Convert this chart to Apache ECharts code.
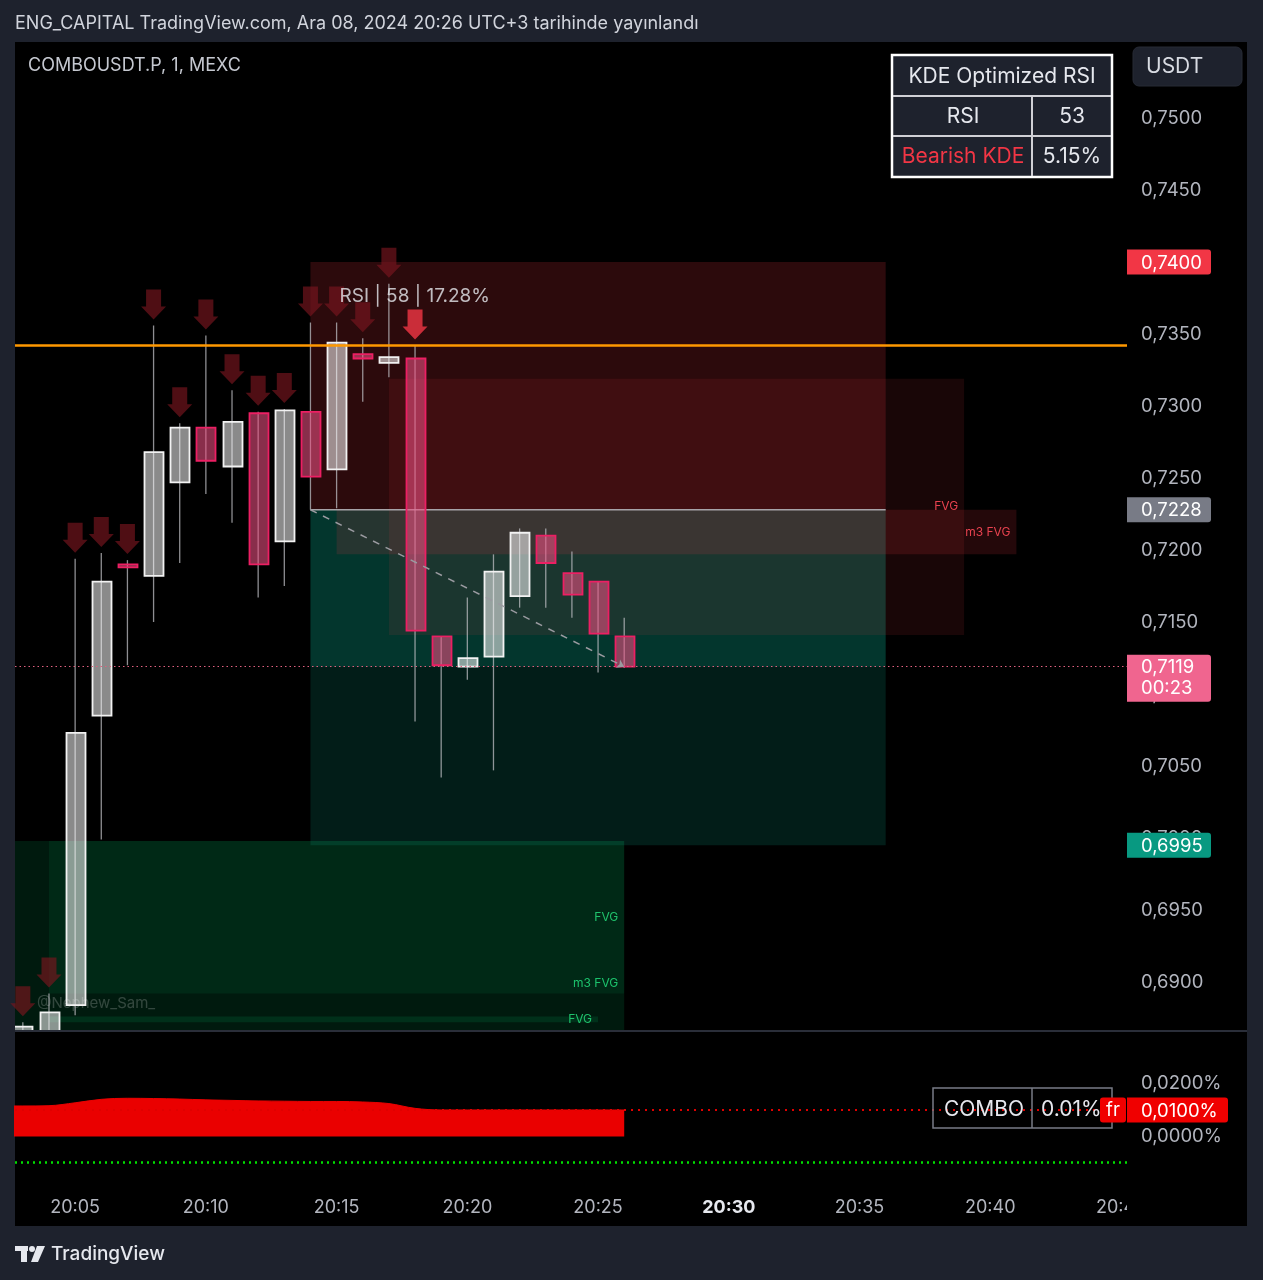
<!DOCTYPE html>
<html>
<head>
<meta charset="utf-8">
<script src="https://cdn.jsdelivr.net/npm/echarts@6/dist/echarts.min.js"></script>
<style>
html,body{margin:0;padding:0;background:#1e222d;}
#c{width:1263px;height:1280px;}
</style>
</head>
<body>
<div id="c"></div>
<script>
// ---------------- DATA ----------------
const candleTimes = ['20:03','20:04','20:05','20:06','20:07','20:08','20:09','20:10','20:11','20:12','20:13','20:14',
                     '20:15','20:16','20:17','20:18','20:19','20:20','20:21','20:22','20:23','20:24','20:25','20:26'];
const openP  = [0.6862,0.6866,0.6884,0.7085,0.7190,0.7182,0.7247,0.7285,0.7258,0.7295,0.7206,0.7296,
                0.7256,0.7336,0.7330,0.7333,0.7140,0.7119,0.7126,0.7168,0.7210,0.7184,0.7178,0.7140];
const closeP = [0.6869,0.6879,0.7073,0.7178,0.7188,0.7268,0.7285,0.7262,0.7289,0.7190,0.7297,0.7251,
                0.7344,0.7333,0.7334,0.7144,0.7120,0.7125,0.7185,0.7212,0.7191,0.7169,0.7142,0.7119];
const lowP   = [0.6860,0.6864,0.6877,0.6999,0.7120,0.7150,0.7191,0.7239,0.7219,0.7167,0.7175,0.7228,
                0.7229,0.7303,0.7320,0.7081,0.7042,0.7110,0.7047,0.7160,0.7160,0.7153,0.7115,0.7118];
const highP  = [0.6872,0.6892,0.7194,0.7198,0.7193,0.7356,0.7288,0.7349,0.7311,0.7296,0.7298,0.7358,
                0.7358,0.7347,0.7385,0.7342,0.7140,0.7167,0.7197,0.7215,0.7215,0.7199,0.7178,0.7153];

const signalTimes = ['20:03','20:04','20:05','20:06','20:07','20:08','20:09','20:10','20:11','20:12',
                     '20:13','20:14','20:15','20:16','20:17','20:18'];
const strongSignal = '20:18';

const fundTimes = ['20:02','20:03','20:04','20:05','20:06','20:07','20:08','20:09','20:10','20:11','20:12','20:13',
                   '20:14','20:15','20:16','20:17','20:18','20:19','20:20','20:21','20:22','20:23','20:24','20:25','20:26'];
const fundingRate = [0.0115,0.0115,0.0116,0.0127,0.0140,0.0144,0.0143,0.0141,0.0138,0.0136,0.0134,0.0133,
                     0.0132,0.0132,0.0130,0.0124,0.0106,0.0100,0.0100,0.0100,0.0100,0.0100,0.0100,0.0100,0.0100];
const fundingLast = 0.0100;
const greenLevel = -0.0097;

const timeTicks = ['20:05','20:10','20:15','20:20','20:25','20:30','20:35','20:40','20:45'];
const boldTick = '20:30';
const priceTicks = [0.6900,0.6950,0.7000,0.7050,0.7100,0.7150,0.7200,0.7250,0.7300,0.7350,0.7400,0.7450,0.7500];
const fundTicks = [0.0000,0.0100,0.0200];

// zones: [start, end, top, bottom, label]
const stopZone   = ['20:14','20:36',0.7400,0.7228,''];
const targetZone = ['20:14','20:36',0.7228,0.6995,''];
const filledZone = ['20:14','20:36',0.7228,0.7119,''];
const bearFVG    = ['20:17','20:39',0.7319,0.7141,'FVG'];
const bearM3FVG  = ['20:15','20:41',0.7228,0.7197,'m3 FVG'];
const bullM3FVG  = ['20:00','20:26',0.6998,0.6800,'m3 FVG'];
const bullFVG    = ['20:04','20:26',0.6998,0.6892,'FVG'];
const bullFVG2   = ['20:04','20:25',0.6876,0.6872,'FVG'];

const entryPrice = 0.7228, targetPrice = 0.6995, stopPrice = 0.7400, lastPrice = 0.7119;
const entryTime = '20:14', zoneEnd = '20:36', lastTime = '20:26';
const orangeLevel = 0.73424;
const countdown = '00:23';
const rsiNote = {time:'20:15', price:0.7376, text:'RSI | 58 | 17.28%'};

const headerText = 'ENG_CAPITAL TradingView.com, Ara 08, 2024 20:26 UTC+3 tarihinde yayınlandı';
const symbolText = 'COMBOUSDT.P, 1, MEXC';
const kdeTitle = 'KDE Optimized RSI', rsiValue = 53, kdeLabel = 'Bearish KDE', kdePct = 5.15;
const comboName = 'COMBO', comboPct = '0.01%';

// ---------------- HELPERS ----------------
const FONT = 'Inter, Roboto, "Noto Sans", sans-serif';
const toMin = s => { const p = s.split(':').map(Number); return (p[0]-20)*60 + p[1]; };
const fmtPrice = v => v.toFixed(4).replace('.', ',');
const fmtPct = v => v.toFixed(4).replace('.', ',') + '%';
const X_MIN = 2.7, X_MAX = 45.23;

const RED = 'rgba(242,54,69,', TEAL = 'rgba(8,153,129,', GRN = 'rgba(0,210,115,';
const zones = [
  {z: bullM3FVG, fill: GRN+'0.12)', lab:'#1fc26c'},
  {z: bullFVG,   fill: GRN+'0.085)', lab:'#1fc26c'},
  {z: bullFVG2,  fill: GRN+'0.12)', lab:'#1fc26c'},
  {z: targetZone, fill: TEAL+'0.19)'},
  {z: filledZone, fill: TEAL+'0.2)'},
  {z: stopZone,  fill: RED+'0.18)'},
  {z: bearFVG,   fill: RED+'0.1)', lab:'#e8424f'},
  {z: bearM3FVG, fill: RED+'0.15)', lab:'#e8424f'}
];

const chart = echarts.init(document.getElementById('c'));

const candleData = candleTimes.map((t,i) => [toMin(t), openP[i], closeP[i], lowP[i], highP[i]]);
const arrowData = signalTimes.map(t => {
  const i = candleTimes.indexOf(t);
  return {value:[toMin(t), highP[i]], itemStyle:{color: t === strongSignal ? '#f23645' : 'rgba(120,22,30,0.82)'}};
});

const option = {
  backgroundColor: '#1e222d',
  animation: false,
  grid: [
    {left:15, top:42, width:1112, height:988},
    {left:15, top:1032, width:1112, height:158}
  ],
  xAxis: [
    {type:'value', gridIndex:0, min:X_MIN, max:X_MAX, axisLine:{show:false}, axisTick:{show:false},
     axisLabel:{show:false}, splitLine:{show:false}},
    {type:'value', gridIndex:1, min:X_MIN, max:X_MAX, axisLine:{show:false}, axisTick:{show:false},
     splitLine:{show:false},
     axisLabel:{customValues: timeTicks.map(toMin), color:'#b2b5be', fontSize:18, fontFamily:FONT, margin:9,
       formatter: v => { const s = '20:' + String(Math.round(v)).padStart(2,'0'); return s === boldTick ? '{b|'+s+'}' : s; },
       rich:{b:{fontWeight:'bold', color:'#e6e8ee', fontSize:18, fontFamily:FONT}}}}
  ],
  yAxis: [
    {type:'value', gridIndex:0, position:'right', min:0.68667, max:0.75528, axisLine:{show:false},
     axisTick:{show:false}, splitLine:{show:false},
     axisLabel:{customValues: priceTicks, formatter: fmtPrice, color:'#b2b5be', fontSize:18.5, fontFamily:FONT, margin:14}},
    {type:'value', gridIndex:1, position:'right', min:-0.0202, max:0.0394, axisLine:{show:false},
     axisTick:{show:false}, splitLine:{show:false},
     axisLabel:{customValues: fundTicks, formatter: fmtPct, color:'#b2b5be', fontSize:18.5, fontFamily:FONT, margin:14}}
  ],
  series: [
    {
      type:'custom', name:'zones', xAxisIndex:0, yAxisIndex:0, clip:true, z:1, silent:true,
      encode:{x:[0,1], y:[2,3]},
      data: zones.map(o => [toMin(o.z[0]), toMin(o.z[1]), o.z[2], o.z[3]]),
      renderItem: (params, api) => {
        const o = zones[params.dataIndex];
        const p0 = api.coord([api.value(0), api.value(2)]);
        const p1 = api.coord([api.value(1), api.value(3)]);
        const children = [{type:'rect', shape:{x:p0[0], y:p0[1], width:p1[0]-p0[0], height:p1[1]-p0[1]},
                           style:{fill:o.fill}}];
        if (o.z[4]) children.push({type:'text', style:{text:o.z[4], x:p1[0]-6, y:(p0[1]+p1[1])/2,
          align:'right', verticalAlign:'middle', fill:o.lab, fontSize:12, fontFamily:FONT}});
        return {type:'group', children};
      }
    },
    {
      type:'line', name:'entry', xAxisIndex:0, yAxisIndex:0, z:2, silent:true, symbol:'none',
      data:[[toMin(entryTime), entryPrice],[toMin(zoneEnd), entryPrice]],
      lineStyle:{color:'#a7a3a8', width:1.5},
      markLine:{silent:true, precision:6, symbol:['none','none'], label:{show:false}, animation:false,
        data:[
          {yAxis: orangeLevel, lineStyle:{color:'#ff9800', width:2.5, type:'solid'}},
          {yAxis: lastPrice, lineStyle:{color:'#e0607f', width:1, type:[1.5,3]}},
          [{coord:[toMin(entryTime), entryPrice], symbol:'none'},
           {coord:[toMin(lastTime), lastPrice], symbol:'arrow', symbolSize:7,
            lineStyle:{color:'#9a9aa0', width:1.5, type:[7,7]}}]
        ]}
    },
    {
      type:'custom', name:'candles', xAxisIndex:0, yAxisIndex:0, clip:true, z:3, silent:true,
      encode:{x:0, y:[1,2,3,4]},
      data: candleData,
      renderItem: (params, api) => {
        const t = api.value(0), o = api.value(1), c = api.value(2), l = api.value(3), h = api.value(4);
        const pO = api.coord([t,o]), pC = api.coord([t,c]), pL = api.coord([t,l]), pH = api.coord([t,h]);
        const w = api.size([1,0])[0] * 0.72;
        const up = c >= o;
        const top = Math.min(pO[1], pC[1]);
        let hh = Math.abs(pO[1]-pC[1]);
        if (hh < 3) hh = 3;
        return {type:'group', children:[
          {type:'line', shape:{x1:pH[0], y1:pH[1], x2:pL[0], y2:pL[1]}, style:{stroke:'rgba(190,190,195,0.75)', lineWidth:1.3}},
          {type:'rect', shape:{x:Math.round(pO[0]-w/2)+0.5, y:top, width:Math.round(w), height:hh},
           style:{fill: up ? 'rgba(255,255,255,0.54)' : 'rgba(236,80,130,0.58)',
                  stroke: up ? '#f2f2f2' : '#ec1f63', lineWidth:1.8}}
        ]};
      }
    },
    {
      type:'scatter', name:'signals', xAxisIndex:0, yAxisIndex:0, z:4, silent:true,
      symbol:'path://M5,0 H20 V17 H25 L12.5,30 L0,17 H5 Z', symbolSize:[25,30], symbolOffset:[0,-21],
      data: arrowData
    },
    {
      type:'scatter', name:'rsiNote', xAxisIndex:0, yAxisIndex:0, z:5, silent:true, symbolSize:0,
      data:[[toMin(rsiNote.time), rsiNote.price]],
      label:{show:true, position:'right', distance:3, formatter: rsiNote.text, color:'#e6e8ee', fontSize:19, fontFamily:FONT}
    },
    {
      type:'line', name:'funding', xAxisIndex:1, yAxisIndex:1, z:2, silent:true, symbol:'none', smooth:0.35,
      data: fundTimes.map((t,i) => [toMin(t), fundingRate[i]]),
      lineStyle:{color:'#ea0000', width:1}, areaStyle:{color:'#ea0000', opacity:1},
      markLine:{silent:true, precision:6, symbol:['none','none'], label:{show:false}, animation:false,
        data:[
          {yAxis: fundingLast, lineStyle:{color:'#e00000', width:2, type:[2,5]}},
          {yAxis: greenLevel, lineStyle:{color:'#00e000', width:2.5, type:[2,4]}}
        ]}
    }
  ]
};
chart.setOption(option);

// ---------------- OVERLAY GRAPHICS ----------------
const py = v => chart.convertToPixel({yAxisIndex:0}, v);
const fy = v => chart.convertToPixel({yAxisIndex:1}, v);
const g = [];
const txt = (text, x, y, o, z) => ({type:'text', z: z || 110, silent:true,
  style:Object.assign({text, x, y, fill:'#e6e8ee', fontSize:18, fontFamily:FONT, verticalAlign:'middle', align:'left'}, o || {})});

g.push({type:'rect', z:-10, silent:true, shape:{x:15, y:42, width:1232, height:1184}, style:{fill:'#000'}});
g.push({type:'text', z:1, silent:true, style:{text:'@Nephew_Sam_', x:37, y:1003, fill:'rgba(255,255,255,0.2)',
  fontSize:15, fontFamily:FONT, verticalAlign:'middle'}});
g.push({type:'line', z:60, silent:true, shape:{x1:15, y1:1031, x2:1247, y2:1031}, style:{stroke:'#2a2e39', lineWidth:2}});
g.push({type:'rect', z:50, silent:true, shape:{x:1127, y:1192, width:120, height:34}, style:{fill:'#000'}});

// header
g.push(txt(headerText, 15, 24, {fill:'#d1d4dc', fontSize:18}));
g.push(txt(symbolText, 28, 66, {fill:'#c5c8d0', fontSize:18}));

// KDE table
g.push({type:'rect', z:100, silent:true, shape:{x:892, y:55, width:220, height:122}, style:{fill:'#1e222d', stroke:'#ffffff', lineWidth:2.5}});
g.push({type:'line', z:101, silent:true, shape:{x1:893, y1:96, x2:1111, y2:96}, style:{stroke:'#d0d0d6', lineWidth:2}});
g.push({type:'line', z:101, silent:true, shape:{x1:893, y1:136, x2:1111, y2:136}, style:{stroke:'#d0d0d6', lineWidth:2}});
g.push({type:'line', z:101, silent:true, shape:{x1:1032, y1:96, x2:1032, y2:176}, style:{stroke:'#d0d0d6', lineWidth:2}});
g.push(txt(kdeTitle, 1002, 77, {align:'center', fontSize:21}));
g.push(txt('RSI', 963, 117, {align:'center', fontSize:21}));
g.push(txt(String(rsiValue), 1072, 117, {align:'center', fontSize:21}));
g.push(txt(kdeLabel, 963, 157, {align:'center', fontSize:21, fill:'#f23645'}));
g.push(txt(kdePct.toFixed(2) + '%', 1072, 157, {align:'center', fontSize:21}));

// currency button
g.push({type:'rect', z:100, silent:true, shape:{x:1133, y:47, width:109, height:39, r:6}, style:{fill:'#1e222d', stroke:'#262a35', lineWidth:1}});
g.push(txt('USDT', 1146, 67, {fontSize:21, fill:'#d8dbe2'}));

// price tags
const tags = [
  {v:stopPrice, fill:'#f23645'},
  {v:entryPrice, fill:'#787b86'},
  {v:targetPrice, fill:'#089981'}
];
tags.forEach(t => {
  const y = py(t.v);
  g.push({type:'rect', z:100, silent:true, shape:{x:1127, y:y-12.5, width:84, height:25, r:[0,3,3,0]}, style:{fill:t.fill}});
  g.push(txt(fmtPrice(t.v), 1141, y+1, {fill:'#ffffff', fontSize:18.5}));
});
{
  const y = py(lastPrice);
  g.push({type:'rect', z:100, silent:true, shape:{x:1127, y:y-12, width:84, height:47, r:[0,3,3,0]}, style:{fill:'#f0658f'}});
  g.push(txt(fmtPrice(lastPrice), 1141, y+1, {fill:'#ffffff', fontSize:18.5}));
  g.push(txt(countdown, 1141, y+22, {fill:'#ffffff', fontSize:18.5}));
}

// funding pane labels
{
  const y = fy(fundingLast);
  g.push({type:'rect', z:100, silent:true, shape:{x:933, y:y-22, width:179, height:40}, style:{fill:'none', stroke:'#787b86', lineWidth:1.5}});
  g.push({type:'line', z:100, silent:true, shape:{x1:1032, y1:y-22, x2:1032, y2:y+18}, style:{stroke:'#787b86', lineWidth:1.5}});
  g.push(txt(comboName, 984, y, {align:'center', fontSize:21}));
  g.push(txt(comboPct, 1041, y, {fontSize:21}));
  g.push({type:'rect', z:120, silent:true, shape:{x:1100, y:y-12.5, width:26, height:25, r:3}, style:{fill:'#f00000'}});
  g.push(txt('fr', 1113, y, {align:'center', fill:'#ffffff', fontSize:18.5}, 130));
  g.push({type:'rect', z:120, silent:true, shape:{x:1127, y:y-12.5, width:101, height:25, r:[0,3,3,0]}, style:{fill:'#f00000'}});
  g.push(txt(fmtPct(fundingLast), 1141, y+1, {fill:'#ffffff', fontSize:18.5}, 130));
}

// footer logo
g.push({type:'rect', z:100, silent:true, shape:{x:15, y:1246, width:13, height:5}, style:{fill:'#e6e8ee'}});
g.push({type:'rect', z:100, silent:true, shape:{x:21, y:1246, width:6, height:16}, style:{fill:'#e6e8ee'}});
g.push({type:'circle', z:100, silent:true, shape:{cx:32, cy:1249, r:3}, style:{fill:'#e6e8ee'}});
g.push({type:'polygon', z:100, silent:true, shape:{points:[[37,1246],[45,1246],[38,1262],[31,1262]]}, style:{fill:'#e6e8ee'}});
g.push(txt('TradingView', 51, 1254, {fontSize:19, fill:'#e6e8ee', fontWeight:500}));

chart.setOption({graphic: g});
</script>
</body>
</html>
